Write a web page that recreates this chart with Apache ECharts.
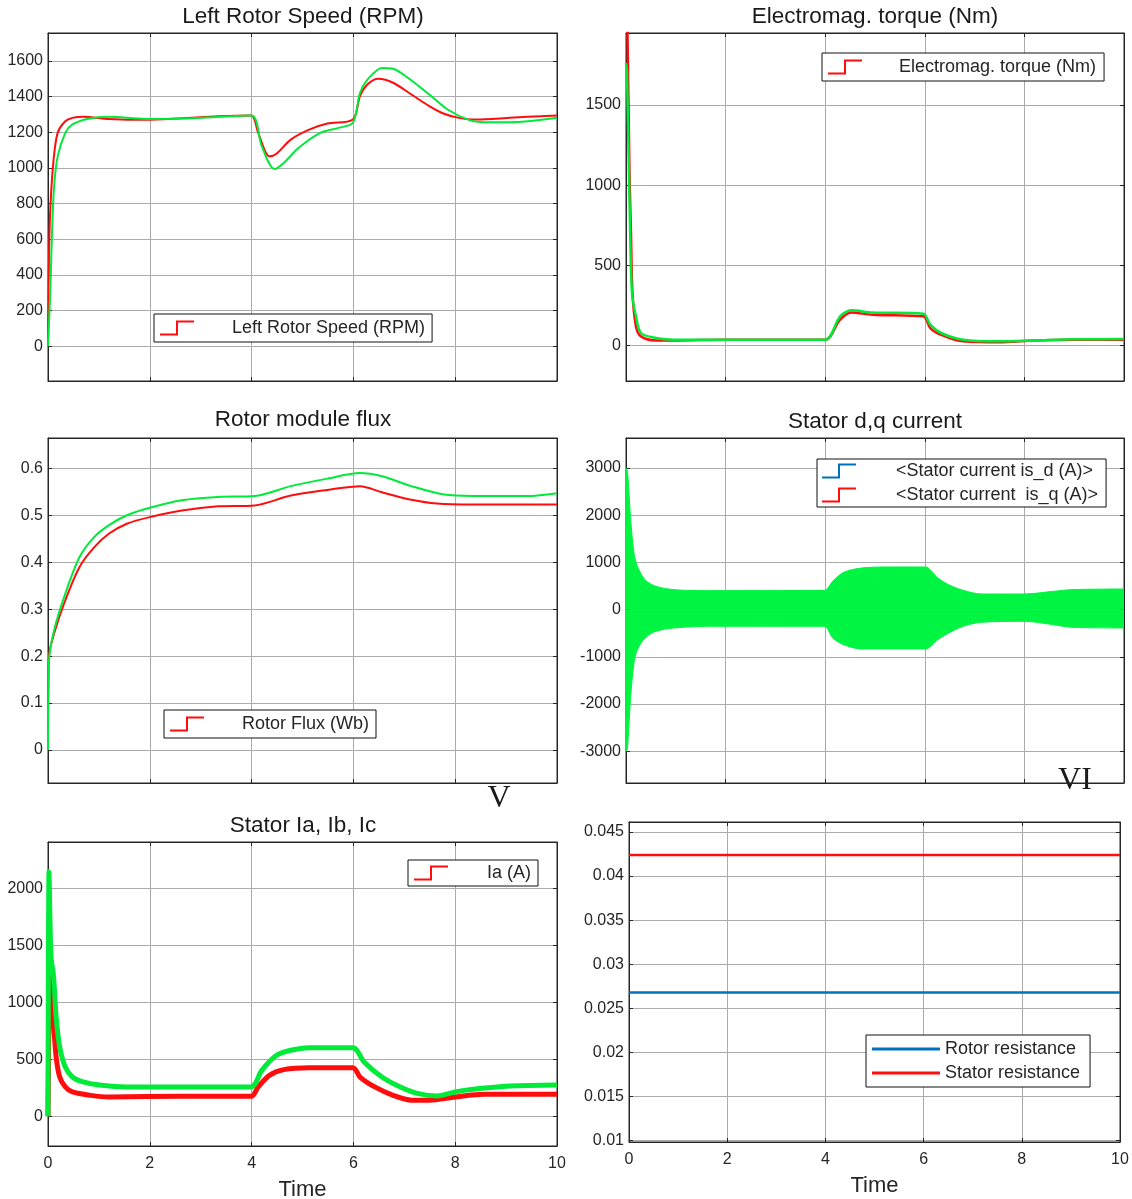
<!DOCTYPE html>
<html>
<head>
<meta charset="utf-8">
<script src="https://cdn.jsdelivr.net/npm/echarts@6/dist/echarts.min.js"></script>
<style>
  html, body { margin: 0; padding: 0; background: #fff; }
  #chart { width: 1132px; height: 1199px; }
</style>
</head>
<body>
<div id="chart"></div>
<script>
// ---- data (time in s) ----
// Left rotor speed (RPM)
const speedRedT = [0, 0.02, 0.05, 0.11, 0.19, 0.34, 0.48, 0.69, 1.2, 1.91, 2.63, 3.34, 3.99, 4.13, 4.35, 4.49, 4.77, 5.13, 5.49, 5.99, 6.13, 6.28, 6.49, 6.78, 7.14, 7.49, 7.78, 8.07, 8.35, 8.71, 9.07, 9.43, 10];
const speedRed  = [0, 520, 800, 1047, 1197, 1262, 1281, 1287, 1275, 1270, 1279, 1290, 1294, 1197, 1065, 1080, 1159, 1215, 1249, 1272, 1403, 1469, 1500, 1478, 1412, 1347, 1304, 1281, 1272, 1275, 1281, 1287, 1294];
const speedGreenT = [0, 0.03, 0.05, 0.08, 0.12, 0.19, 0.34, 0.48, 0.77, 1.2, 1.91, 2.63, 3.99, 4.2, 4.45, 4.63, 4.92, 5.35, 5.71, 5.99, 6.13, 6.28, 6.56, 6.78, 7.07, 7.49, 7.85, 8.28, 8.57, 9.07, 9.43, 10];
const speedGreen  = [0, 200, 353, 650, 897, 1065, 1197, 1244, 1275, 1287, 1275, 1277, 1294, 1122, 994, 1028, 1112, 1197, 1225, 1253, 1422, 1497, 1561, 1557, 1506, 1412, 1328, 1268, 1257, 1257, 1262, 1281];

// Electromagnetic torque (Nm)
const torqueRedT = [0, 0.03, 0.07, 0.1, 0.13, 0.2, 0.3, 0.6, 1.0, 2.0, 3.0, 4.0, 4.3, 4.52, 4.95, 5.97, 6.11, 6.33, 6.77, 7.49, 8.22, 9.0, 10];
const torqueRed  = [2300, 1950, 1075, 700, 330, 120, 58, 33, 33, 37, 37, 37, 162, 207, 193, 183, 110, 68, 27, 21, 33, 37, 37];
const torqueGreenT = [0, 0.02, 0.07, 0.12, 0.2, 0.3, 0.6, 0.96, 2, 3, 4.0, 4.3, 4.52, 4.95, 5.97, 6.11, 6.33, 6.77, 7.49, 8.22, 9, 10];
const torqueGreen  = [1760, 1700, 909, 328, 183, 79, 48, 37, 37, 37, 37, 183, 220, 207, 199, 131, 79, 37, 27, 33, 40, 41];

// Rotor flux (Wb)
const fluxRedT = [0, 0.02, 0.12, 0.34, 0.62, 0.91, 1.2, 1.55, 2.0, 2.63, 3.34, 4.06, 4.77, 5.49, 6.13, 6.56, 7.14, 7.64, 8.35, 10];
const fluxRed  = [0, 0.2, 0.248, 0.319, 0.39, 0.432, 0.461, 0.482, 0.496, 0.51, 0.519, 0.521, 0.542, 0.554, 0.562, 0.549, 0.533, 0.525, 0.523, 0.523];
const fluxGreenT = [0, 0.02, 0.12, 0.34, 0.62, 0.91, 1.2, 1.55, 2.0, 2.63, 3.34, 4.06, 4.77, 5.49, 6.13, 6.56, 7.14, 7.78, 8.35, 9.43, 10];
const fluxGreen  = [0, 0.19, 0.255, 0.333, 0.411, 0.454, 0.479, 0.5, 0.516, 0.532, 0.539, 0.541, 0.562, 0.578, 0.59, 0.583, 0.562, 0.544, 0.541, 0.541, 0.547];

// Stator d,q current: envelope of the fast oscillation (A)
const dqT     = [0, 0.03, 0.09, 0.16, 0.23, 0.38, 0.6, 0.96, 1.68, 3.98, 4.15, 4.37, 4.73, 5.32, 6.01, 6.26, 6.48, 6.77, 7.13, 8.0, 8.58, 8.95, 10];
const dqUpper = [3000, 2930, 1976, 1200, 918, 635, 494, 424, 402, 409, 600, 790, 882, 904, 904, 671, 529, 409, 332, 332, 388, 424, 438];
const dqLower = [-3000, -2930, -1906, -1129, -847, -600, -459, -388, -353, -353, -600, -741, -833, -833, -833, -635, -494, -353, -268, -247, -318, -374, -388];

// Stator Ia, Ib, Ic (A)
const iaRedT = [0, 0.02, 0.04, 0.07, 0.11, 0.16, 0.23, 0.34, 0.48, 0.84, 1.2, 2.63, 3.99, 4.13, 4.35, 4.63, 5.13, 5.99, 6.13, 6.42, 6.78, 7.14, 7.49, 8.0, 8.57, 10];
const iaRed  = [0, 900, 1380, 1050, 814, 521, 345, 258, 214, 184, 170, 176, 176, 258, 360, 410, 427, 427, 345, 258, 184, 141, 141, 170, 193, 193];
const iaGreenT = [0, 0.02, 0.04, 0.06, 0.11, 0.16, 0.23, 0.34, 0.48, 0.69, 1.05, 1.55, 2.63, 3.99, 4.2, 4.49, 4.77, 5.13, 5.99, 6.21, 6.56, 6.92, 7.28, 7.64, 8.0, 8.35, 9.07, 10];
const iaGreen  = [0, 2150, 1700, 1400, 1224, 873, 609, 433, 345, 302, 272, 258, 258, 258, 404, 536, 580, 603, 603, 477, 345, 258, 199, 179, 214, 237, 266, 275];

// Resistances (ohm)
const resT = [0, 10];
const rotorRes  = [0.0268, 0.0268];
const statorRes = [0.0424, 0.0424];

// ---- styling ----
const FONT = "'Liberation Sans', Arial, sans-serif";
const INK = '#262626';
const GRIDC = '#ababab';
const RED = '#ff0d0d';
const GREEN = '#00ea3a';
const BAND = '#00f542';
const BLUE = '#0072bd';
const STEP = 'path://M0,13 L16,13 L16,0 L34,0 L34,2 L18,2 L18,15 L0,15 Z';

// box of each scope axes and its y range (range = what the box shows)
const panels = [
  { left: 48,  top: 33,  width: 509, height: 348, y: [-195, 1757],   step: 200,   lab: [0, 1600] },
  { left: 626, top: 33,  width: 498, height: 348, y: [-220, 1948],   step: 500,   lab: [0, 1500] },
  { left: 48,  top: 438, width: 509, height: 345, y: [-0.0702, 0.6645], step: 0.1, lab: [0, 0.6] },
  { left: 626, top: 438, width: 498, height: 345, y: [-3672, 3636],  step: 1000,  lab: [-3000, 3000] },
  { left: 48,  top: 842, width: 509, height: 304, y: [-261, 2410],   step: 500,   lab: [0, 2000], time: true },
  { left: 629, top: 822, width: 491, height: 320, y: [0.00985, 0.04613], step: 0.005, lab: [0.01, 0.045], time: true }
];

function pairs(t, v) { return t.map((x, i) => [x, v[i]]); }

function yFormatter(p) {
  return function (v) {
    const k = Math.round(v / p.step);
    if (Math.abs(v / p.step - k) > 1e-6) return '';
    const val = +(k * p.step).toFixed(4);
    if (val < p.lab[0] - 1e-9 || val > p.lab[1] + 1e-9) return '';
    return String(val);
  };
}

function tick() { return { show: true, inside: true, length: 4, lineStyle: { color: INK } }; }
function border() { return { show: true, onZero: false, lineStyle: { color: INK, width: 1 } }; }

const grid = [], xAxis = [], yAxis = [];
panels.forEach((p, i) => {
  grid.push({ left: p.left, top: p.top, width: p.width, height: p.height, show: true,
    outerBoundsMode: 'none', containLabel: false,
    borderColor: INK, borderWidth: 1, backgroundColor: '#fff' });
  xAxis.push({
    gridIndex: i, type: 'value', min: 0, max: 10, interval: 2, position: 'bottom',
    axisLine: border(), axisTick: tick(),
    splitLine: { show: true, lineStyle: { color: GRIDC, width: 1 } },
    axisLabel: { show: !!p.time, color: INK, fontFamily: FONT, fontSize: 16, margin: 10 },
    name: p.time ? 'Time' : '', nameLocation: 'middle', nameGap: 33,
    nameTextStyle: { color: INK, fontFamily: FONT, fontSize: 22 }
  });
  xAxis.push({
    gridIndex: i, type: 'value', min: 0, max: 10, interval: 2, position: 'top',
    axisLine: border(), axisTick: tick(), splitLine: { show: false }, axisLabel: { show: false }
  });
  yAxis.push({
    gridIndex: i, type: 'value', min: p.y[0], max: p.y[1], position: 'left',
    minInterval: p.step, maxInterval: p.step, splitNumber: 10,
    axisLine: border(), axisTick: tick(),
    splitLine: { show: true, lineStyle: { color: GRIDC, width: 1 } },
    axisLabel: { show: true, color: INK, fontFamily: FONT, fontSize: 16, margin: 5, formatter: yFormatter(p) }
  });
  yAxis.push({
    gridIndex: i, type: 'value', min: p.y[0], max: p.y[1], position: 'right',
    minInterval: p.step, maxInterval: p.step, splitNumber: 10,
    axisLine: border(), axisTick: tick(), splitLine: { show: false }, axisLabel: { show: false }
  });
});

function trace(name, panel, t, v, color, width) {
  return {
    name: name, type: 'line', xAxisIndex: panel * 2, yAxisIndex: panel * 2,
    data: pairs(t, v), symbol: 'none', smooth: 0.3,
    color: color, lineStyle: { color: color, width: width }, silent: true
  };
}

const series = [
  trace('Left Rotor Speed (RPM)', 0, speedRedT, speedRed, RED, 2),
  trace('speed green', 0, speedGreenT, speedGreen, GREEN, 2),
  trace('Electromag. torque (Nm)', 1, torqueRedT, torqueRed, RED, 2.5),
  trace('torque green', 1, torqueGreenT, torqueGreen, GREEN, 2.5),
  trace('Rotor Flux (Wb)', 2, fluxRedT, fluxRed, RED, 2),
  trace('flux green', 2, fluxGreenT, fluxGreen, GREEN, 2),
  // legend entries of the d,q scope (covered by the green band)
  { name: '<Stator current is_d (A)>', type: 'line', xAxisIndex: 6, yAxisIndex: 6, data: [], color: BLUE },
  { name: '<Stator current  is_q (A)>', type: 'line', xAxisIndex: 6, yAxisIndex: 6, data: [], color: RED },
  Object.assign(trace('dq upper', 3, dqT, dqUpper, BAND, 1), { areaStyle: { color: BAND, opacity: 1, origin: 0 } }),
  Object.assign(trace('dq lower', 3, dqT, dqLower, BAND, 1), { areaStyle: { color: BAND, opacity: 1, origin: 0 } }),
  trace('Ia (A)', 4, iaRedT, iaRed, RED, 5),
  trace('ia green', 4, iaGreenT, iaGreen, GREEN, 5),
  trace('Rotor resistance', 5, resT, rotorRes, BLUE, 2.5),
  trace('Stator resistance', 5, resT, statorRes, RED, 2.5)
];

function stepLegend(names, left, top, padding, textPad, extra) {
  return Object.assign({
    data: names, left: left, top: top, orient: 'vertical', selectedMode: false,
    icon: STEP, itemWidth: 34, itemHeight: 15, itemGap: 6,
    itemStyle: { borderWidth: 0 },
    padding: padding, borderColor: '#111', borderWidth: 1, backgroundColor: '#fff',
    textStyle: { color: INK, fontFamily: FONT, fontSize: 18, lineHeight: 18, padding: [0, 0, 0, textPad] }
  }, extra || {});
}

const legend = [
  stepLegend(['Left Rotor Speed (RPM)'], 154, 314, [5, 7, 5, 6], 33),
  stepLegend(['Electromag. torque (Nm)'], 822, 53, [5, 8, 5, 6], 32),
  stepLegend(['Rotor Flux (Wb)'], 164, 710, [5, 7, 5, 6], 33),
  stepLegend(['<Stator current is_d (A)>', '<Stator current  is_q (A)>'], 817, 459, [3, 8, 3, 5], 35),
  stepLegend(['Ia (A)'], 408, 860, [4, 7, 4, 6], 34),
  stepLegend(['Rotor resistance', 'Stator resistance'], 866, 1035, [5, 10, 5, 6], 0,
    { icon: 'rect', itemWidth: 68, itemHeight: 3, itemGap: 6 })
];

function label(text, x, y, font) {
  return { type: 'text', x: x, y: y, silent: true,
    style: { text: text, font: font, fill: '#1a1a1a', align: 'center', verticalAlign: 'middle',
      textAlign: 'center', textVerticalAlign: 'middle' } };
}
const TITLE = "22.5px 'Liberation Sans', Arial, sans-serif";
const ROMAN = "32px 'Liberation Serif', 'Times New Roman', serif";

const chart = echarts.init(document.getElementById('chart'));
chart.setOption({
  animation: false,
  backgroundColor: '#fff',
  grid: grid,
  xAxis: xAxis,
  yAxis: yAxis,
  legend: legend,
  series: series,
  graphic: [
    label('Left Rotor Speed (RPM)', 303, 17, TITLE),
    label('Electromag. torque (Nm)', 875, 17, TITLE),
    label('Rotor module flux', 303, 420, TITLE),
    label('Stator d,q current', 875, 422, TITLE),
    label('Stator Ia, Ib, Ic', 303, 826, TITLE),
    label('V', 499, 799, ROMAN),
    label('VI', 1075, 781, ROMAN)
  ]
});
</script>
</body>
</html>
